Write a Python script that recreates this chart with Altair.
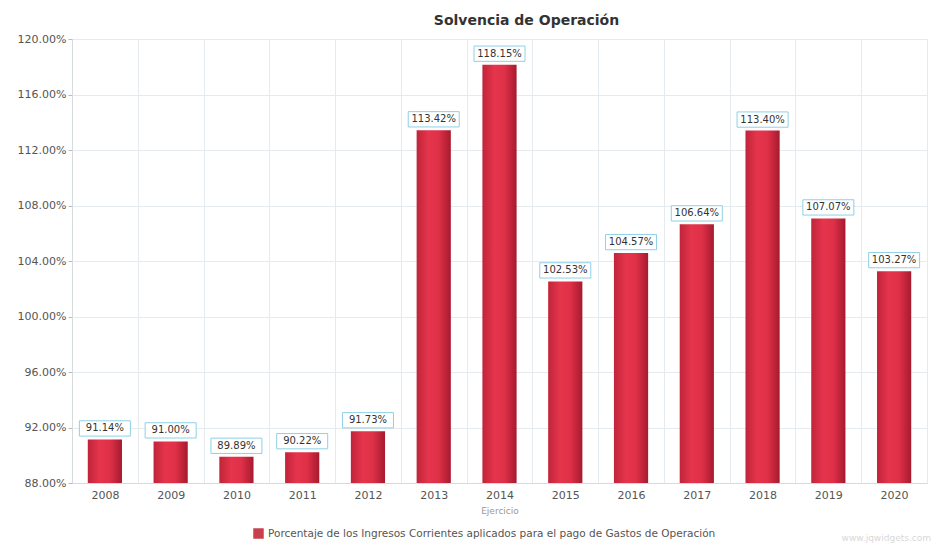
import altair as alt
import pandas as pd

years = ["2008", "2009", "2010", "2011", "2012", "2013", "2014", "2015", "2016", "2017", "2018", "2019", "2020"]
values = [91.14, 91.00, 89.89, 90.22, 91.73, 113.42, 118.15, 102.53, 104.57, 106.64, 113.40, 107.07, 103.27]
series_name = "Porcentaje de los Ingresos Corrientes aplicados para el pago de Gastos de Operación"
y_ticks = [88, 92, 96, 100, 104, 108, 112, 116, 120]

df = pd.DataFrame({"Ejercicio": years, "valor": values, "serie": [series_name] * len(years)})

FONT = "DejaVu Sans"
W, H = 855, 444

x_enc = alt.X(
    "Ejercicio:N",
    sort=years,
    title="Ejercicio",
    scale=alt.Scale(paddingInner=0, paddingOuter=0),
    axis=alt.Axis(
        labelAngle=0, labelFont=FONT, labelFontSize=11, labelColor="#555",
        labelPadding=6, titleFont=FONT, titleFontSize=9, titleFontWeight="normal",
        titleColor="#999", titlePadding=6, grid=True, gridColor="#e4eaee",
        tickBand="extent", ticks=False, domainColor="#d5dadd",
    ),
)
y_enc = alt.Y(
    "valor:Q",
    title=None,
    scale=alt.Scale(domain=[88, 120], zero=False, nice=False),
    axis=alt.Axis(
        values=y_ticks, labelExpr="format(datum.value, '.2f') + '%'",
        labelFont=FONT, labelFontSize=11, labelColor="#555",
        gridColor="#e4eaee", tickColor="#bbb", tickSize=4, domainColor="#d5dadd",
    ),
)

base = alt.Chart(df).encode(x=x_enc)

grad = alt.LinearGradient(
    gradient="linear", x1=0, x2=1, y1=0, y2=0,
    stops=[
        alt.GradientStop(color="#c0243a", offset=0),
        alt.GradientStop(color="#e5354c", offset=0.35),
        alt.GradientStop(color="#de3047", offset=0.65),
        alt.GradientStop(color="#a61a2f", offset=1),
    ],
)

bars = base.mark_bar(color=grad, width=alt.RelativeBandSize(0.52)).encode(
    y=y_enc, y2=alt.datum(88)
)

legend_layer = base.mark_square(opacity=0, size=1).encode(
    y=alt.Y("valor:Q"),
    color=alt.Color(
        "serie:N",
        scale=alt.Scale(range=["#c8404e"]),
        legend=alt.Legend(
            title=None, orient="none", legendX=181, legendY=H + 45,
            direction="horizontal", symbolType="square", symbolOpacity=1,
            symbolSize=110, symbolStrokeWidth=0, labelFont=FONT, labelFontSize=10.5,
            labelColor="#555", labelLimit=0,
        ),
    ),
)

boxes = base.mark_point(
    shape="M-1,-0.3L1,-0.3L1,0.3L-1,0.3Z", size=2601, filled=True,
    fill="white", stroke="#8fd0e6", strokeWidth=1, opacity=1, yOffset=-11,
).encode(y=alt.Y("valor:Q"))

labels = base.transform_calculate(
    label="format(datum.valor, '.2f') + '%'"
).mark_text(
    font=FONT, fontSize=10, color="#333", baseline="middle", yOffset=-11
).encode(y=alt.Y("valor:Q"), text="label:N")

watermark = alt.Chart(pd.DataFrame({"t": ["www.jqwidgets.com"]})).mark_text(
    font=FONT, fontSize=9, color="#d8d8d8", align="right", baseline="middle"
).encode(text="t:N", x=alt.value(W + 4), y=alt.value(H + 55))

chart = alt.layer(bars, legend_layer, boxes, labels, watermark).properties(
    width=W, height=H,
    title=alt.Title("Solvencia de Operación", font=FONT, fontSize=14,
                    fontWeight="bold", color="#333", offset=5, dx=27),
    padding={"left": 9, "top": 6, "right": 0, "bottom": 0},
).configure_view(stroke=None).configure(background="white")

chart.save("out.html", embed_options={"renderer": "svg", "actions": False})
